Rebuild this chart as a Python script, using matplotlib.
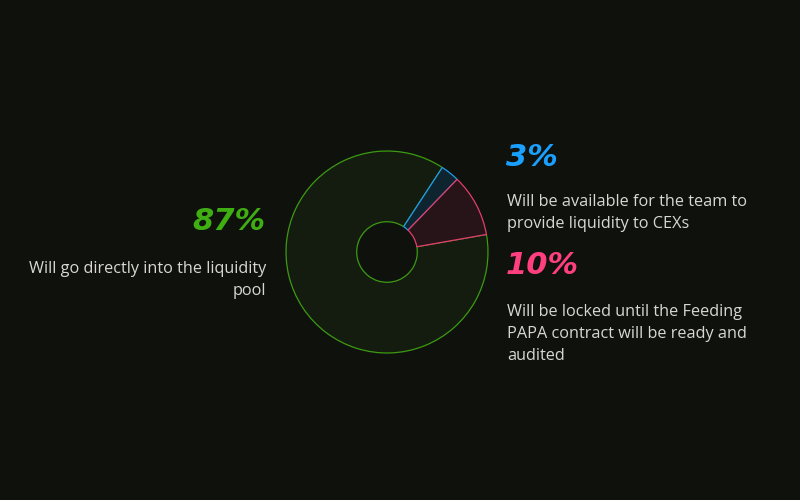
import matplotlib
matplotlib.use("Agg")
import matplotlib.pyplot as plt

labels = ["87%", "3%", "10%"]
values = [87, 3, 10]
face_colors = ["#141c0f", "#0e2530", "#261419"]
edge_colors = ["#3c9a12", "#1e9be8", "#e23d6c"]
desc = [
    "Will go directly into the liquidity\npool",
    "Will be available for the team to\nprovide liquidity to CEXs",
    "Will be locked until the Feeding\nPAPA contract will be ready and\naudited",
]
pct_colors = ["#3fae12", "#1aa0ff", "#ff3f7f"]

BG = "#0f110d"
W, H = 800, 500
fig = plt.figure(figsize=(8, 5), dpi=100, facecolor=BG)

cx, cy, r = 387, 252, 102
ax = fig.add_axes([(cx - r) / W, (H - cy - r) / H, 2 * r / W, 2 * r / H])
ax.set_facecolor(BG)
wedges, _ = ax.pie(values, startangle=10, counterclock=False, radius=1,
                   wedgeprops=dict(width=0.70, linewidth=0.9))
for w, fc, ec in zip(wedges, face_colors, edge_colors):
    w.set_facecolor(fc)
    w.set_edgecolor(ec)
ax.set_xlim(-1.01, 1.01)
ax.set_ylim(-1.01, 1.01)
ax.set_aspect("equal")
ax.axis("off")

def ft(x, y, s, **kw):
    fig.text(x / W, 1 - y / H, s, **kw)

txt_color = "#d8d8d0"
font = "Open Sans"
pct_kw = dict(fontsize=22, fontweight="bold", fontstyle="italic", family="DejaVu Sans", va="center")
desc_kw = dict(fontsize=11.7, color=txt_color, family=font, va="top", linespacing=1.52)

# 87%
ft(265, 222, labels[0], color=pct_colors[0], ha="right", **pct_kw)
ft(266, 261, desc[0], ha="right", multialignment="right", **desc_kw)
# 3%
ft(506, 157, labels[1], color=pct_colors[1], ha="left", **pct_kw)
ft(507, 194, desc[1], ha="left", **desc_kw)
# 10%
ft(506, 266, labels[2], color=pct_colors[2], ha="left", **pct_kw)
ft(507, 304, desc[2], ha="left", **desc_kw)

fig.savefig("out.png", dpi=100, facecolor=BG)
